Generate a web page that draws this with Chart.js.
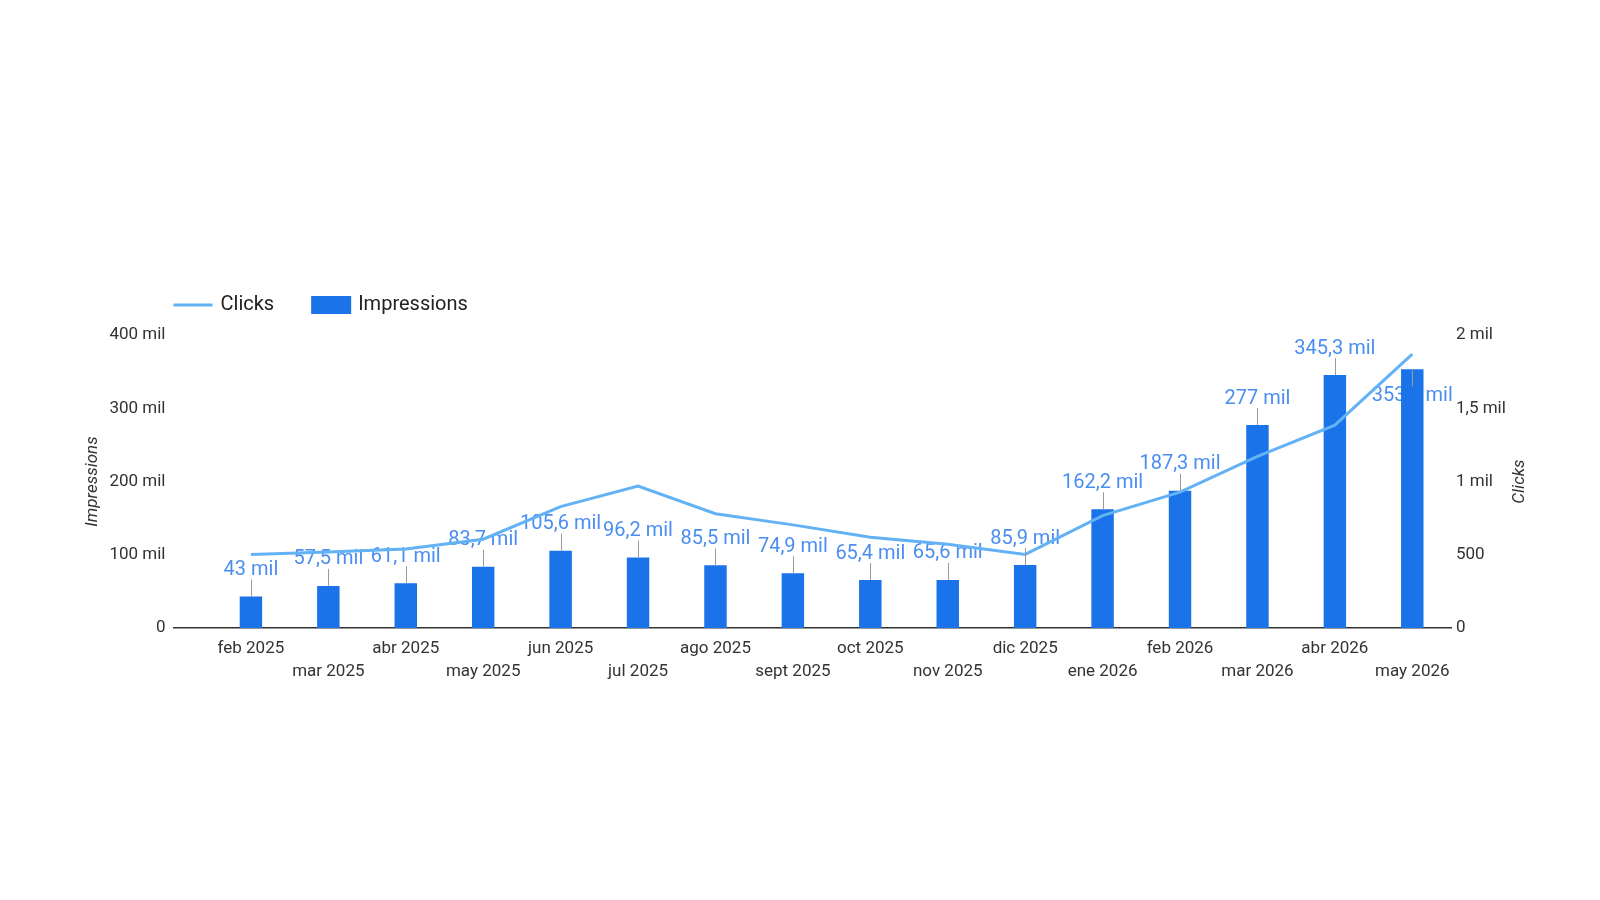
<!DOCTYPE html>
<html>
<head>
<meta charset="utf-8">
<script src="https://cdn.jsdelivr.net/npm/chart.js@4.4.1/dist/chart.umd.min.js"></script>
<style>
  html, body { margin: 0; padding: 0; background: #fff; }
  canvas { display: block; }
</style>
</head>
<body>
<canvas id="chart" width="1600" height="900"></canvas>
<script>
const months = [
  "feb 2025", "mar 2025", "abr 2025", "may 2025", "jun 2025", "jul 2025",
  "ago 2025", "sept 2025", "oct 2025", "nov 2025", "dic 2025", "ene 2026",
  "feb 2026", "mar 2026", "abr 2026", "may 2026",
];
// impressions in thousands ("mil")
const impressions = [43, 57.5, 61.1, 83.7, 105.6, 96.2, 85.5, 74.9, 65.4, 65.6, 85.9, 162.2, 187.3, 277, 345.3, 353.2];
const clicks = [502, 519, 540, 606, 829, 969, 780, 704, 620, 571, 502, 767, 927, 1171, 1385, 1870];

const impressionTicks = ["0", "100 mil", "200 mil", "300 mil", "400 mil"];
const clickTicks = ["0", "500", "1 mil", "1,5 mil", "2 mil"];

const BAR_BLUE = "#1a73e8";
const LINE_BLUE = "#62b2f5";
const LABEL_BLUE = "#4a8ef0";

const fmt = (v) => String(v).replace(".", ",") + " mil";

// value labels above the bars; the last one sits below its bar top
const barLabels = {
  id: "barLabels",
  beforeDatasetsDraw(chart) {
    const ctx = chart.ctx;
    const meta = chart.getDatasetMeta(1);
    ctx.save();
    ctx.font = "20px Roboto";
    ctx.textAlign = "center";
    ctx.textBaseline = "middle";
    ctx.fillStyle = LABEL_BLUE;
    meta.data.forEach((bar, i) => {
      const dir = i === impressions.length - 1 ? 1 : -1;
      ctx.fillText(fmt(impressions[i]), bar.x, bar.y + dir * 26.5);
    });
    ctx.restore();
  },
  afterDatasetsDraw(chart) {
    const ctx = chart.ctx;
    const meta = chart.getDatasetMeta(1);
    ctx.save();
    ctx.strokeStyle = "#9a9a9a";
    ctx.lineWidth = 1;
    meta.data.forEach((bar, i) => {
      const dir = i === impressions.length - 1 ? 1 : -1;
      const x = Math.round(bar.x) + 0.5;
      ctx.beginPath();
      ctx.moveTo(x, bar.y);
      ctx.lineTo(x, bar.y + dir * 17);
      ctx.stroke();
    });
    ctx.restore();
  },
};

// legend and rotated axis titles
const extras = {
  id: "extras",
  afterDraw(chart) {
    const { ctx, chartArea } = chart;
    ctx.save();
    ctx.font = "20px Roboto";
    ctx.textBaseline = "middle";
    ctx.textAlign = "left";
    const y = chartArea.top - 30;
    let x = chartArea.left;
    chart.data.datasets.forEach((ds) => {
      if (ds.type === "line") {
        ctx.strokeStyle = ds.borderColor;
        ctx.lineWidth = 3;
        ctx.beginPath();
        ctx.moveTo(x, y);
        ctx.lineTo(x + 39, y);
        ctx.stroke();
      } else {
        ctx.fillStyle = ds.backgroundColor;
        ctx.fillRect(x, y - 9, 40, 18);
      }
      x += 47;
      ctx.fillStyle = "#222";
      ctx.fillText(ds.label, x, y);
      x += ctx.measureText(ds.label).width + 37;
    });

    const midY = (chartArea.top + chartArea.bottom) / 2;
    ctx.font = "italic 17px Roboto";
    ctx.textAlign = "center";
    ctx.fillStyle = "#333";
    const vert = (text, tx) => {
      ctx.save();
      ctx.translate(tx, midY);
      ctx.rotate(-Math.PI / 2);
      ctx.fillText(text, 0, 0);
      ctx.restore();
    };
    vert("Impressions", chart.scales.y.left + 13);
    vert("Clicks", chart.scales.y1.right - 13);
    ctx.restore();
  },
};

new Chart(document.getElementById("chart"), {
  data: {
    datasets: [
      {
        type: "line",
        label: "Clicks",
        data: clicks.map((v, i) => ({ x: i, y: v })),
        yAxisID: "y1",
        borderColor: LINE_BLUE,
        borderWidth: 3,
        pointRadius: 0,
        tension: 0,
      },
      {
        type: "bar",
        label: "Impressions",
        data: impressions.map((v, i) => ({ x: i, y: v })),
        yAxisID: "y",
        backgroundColor: BAR_BLUE,
        barPercentage: 0.29,
        categoryPercentage: 1,
      },
    ],
  },
  options: {
    responsive: false,
    animation: false,
    layout: { padding: { left: 80, right: 67, top: 335, bottom: 212 } },
    plugins: {
      legend: { display: false },
      tooltip: { enabled: false },
    },
    scales: {
      x: {
        type: "linear",
        min: -1,
        max: 15.5,
        offset: false,
        afterBuildTicks: (scale) => {
          scale.ticks = months.map((m, i) => ({ value: i }));
        },
        afterFit: (scale) => { scale.height = 60; },
        grid: { display: false, drawTicks: false, offset: false },
        border: { display: true, color: "#333", width: 1.5 },
        ticks: {
          autoSkip: false,
          maxRotation: 0,
          minRotation: 0,
          padding: 9,
          color: "#333",
          font: { family: "Roboto", size: 17, lineHeight: 1.38 },
          callback: (value) => {
            const i = Math.round(value);
            return i % 2 === 0 ? months[i] : ["", months[i]];
          },
        },
      },
      y: {
        position: "left",
        min: 0,
        max: 400,
        afterFit: (scale) => { scale.width = 93.5; },
        grid: { display: false, drawTicks: false },
        border: { display: false },
        ticks: {
          stepSize: 100,
          padding: 8,
          color: "#333",
          font: { family: "Roboto", size: 17 },
          callback: (value, index) => impressionTicks[index],
        },
      },
      y1: {
        position: "right",
        min: 0,
        max: 2000,
        afterFit: (scale) => { scale.width = 82; },
        grid: { display: false, drawTicks: false },
        border: { display: false },
        ticks: {
          stepSize: 500,
          padding: 5,
          color: "#333",
          font: { family: "Roboto", size: 17 },
          callback: (value, index) => clickTicks[index],
        },
      },
    },
  },
  plugins: [barLabels, extras],
});
</script>
</body>
</html>
